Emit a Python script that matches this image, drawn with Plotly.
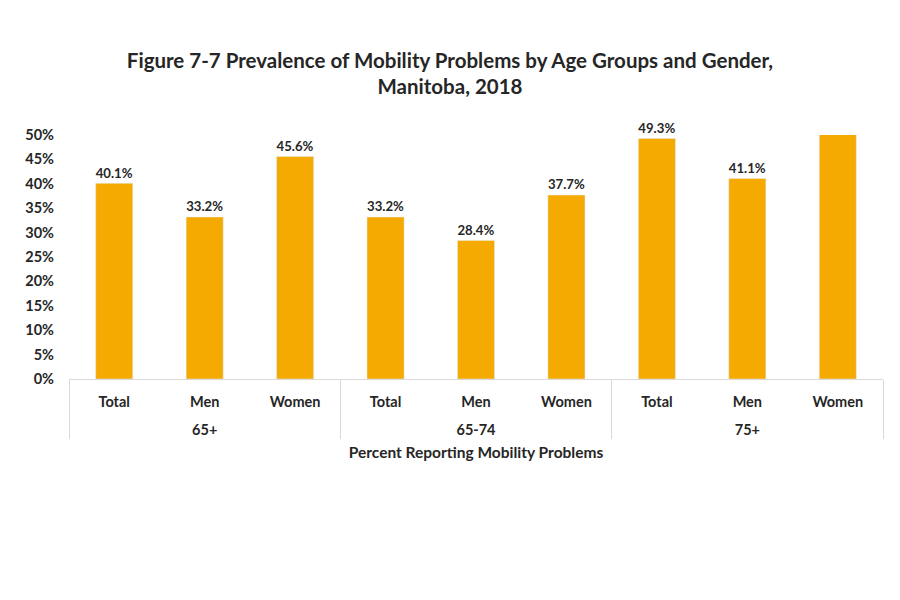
import plotly.graph_objects as go

# data
age_groups = ["65+", "65+", "65+", "65-74", "65-74", "65-74", "75+", "75+", "75+"]
genders = ["Total", "Men", "Women", "Total", "Men", "Women", "Total", "Men", "Women"]
prevalence = [40.1, 33.2, 45.6, 33.2, 28.4, 37.7, 49.3, 41.1, 56.0]

y_max = 50
# the last bar runs past the axis top, so its label is hidden like in the source
labels = [f"{v:.1f}%" if v <= y_max else "" for v in prevalence]
# an empty first line pushes the group row further below the gender row
group_ticks = ["<br>" + g for g in age_groups]

font_family = "Lato, 'Open Sans', sans-serif"
text_color = "#262626"

fig = go.Figure()
fig.add_trace(
    go.Bar(
        x=[group_ticks, genders],
        y=prevalence,
        text=labels,
        textposition="outside",
        textfont=dict(size=15.5, color=text_color, family=font_family, weight="bold"),
        marker=dict(color="#F4AA00"),
        cliponaxis=False,
        showlegend=False,
    )
)

fig.update_layout(
    title=dict(
        text="Figure 7-7 Prevalence of Mobility Problems by Age Groups and Gender,<br>Manitoba, 2018",
        x=0.5,
        xanchor="center",
        y=0.898,
        yanchor="top",
        font=dict(size=20.5, color=text_color, family=font_family, weight="bold"),
    ),
    width=884,
    height=584,
    margin=dict(l=61, r=9, t=127, b=213),
    bargap=0.59,
    plot_bgcolor="white",
    paper_bgcolor="white",
    font=dict(family=font_family, color=text_color),
)

fig.update_yaxes(
    range=[0, y_max],
    dtick=5,
    ticksuffix="%",
    showgrid=False,
    zeroline=False,
    showline=False,
    automargin=False,
    ticklabelstandoff=14,
    tickfont=dict(size=14.5, color=text_color, family=font_family, weight="bold"),
)

fig.update_xaxes(
    showline=True,
    linecolor="#D9D9D9",
    showdividers=True,
    dividercolor="#D9D9D9",
    dividerwidth=1,
    automargin=False,
    ticklabelstandoff=10,
    tickfont=dict(size=14.5, color=text_color, family=font_family, weight="bold"),
    title=dict(
        text="Percent Reporting Mobility Problems",
        font=dict(size=15.5, color=text_color, family=font_family, weight="bold"),
        standoff=9,
    ),
)

fig.write_html("out.html")
